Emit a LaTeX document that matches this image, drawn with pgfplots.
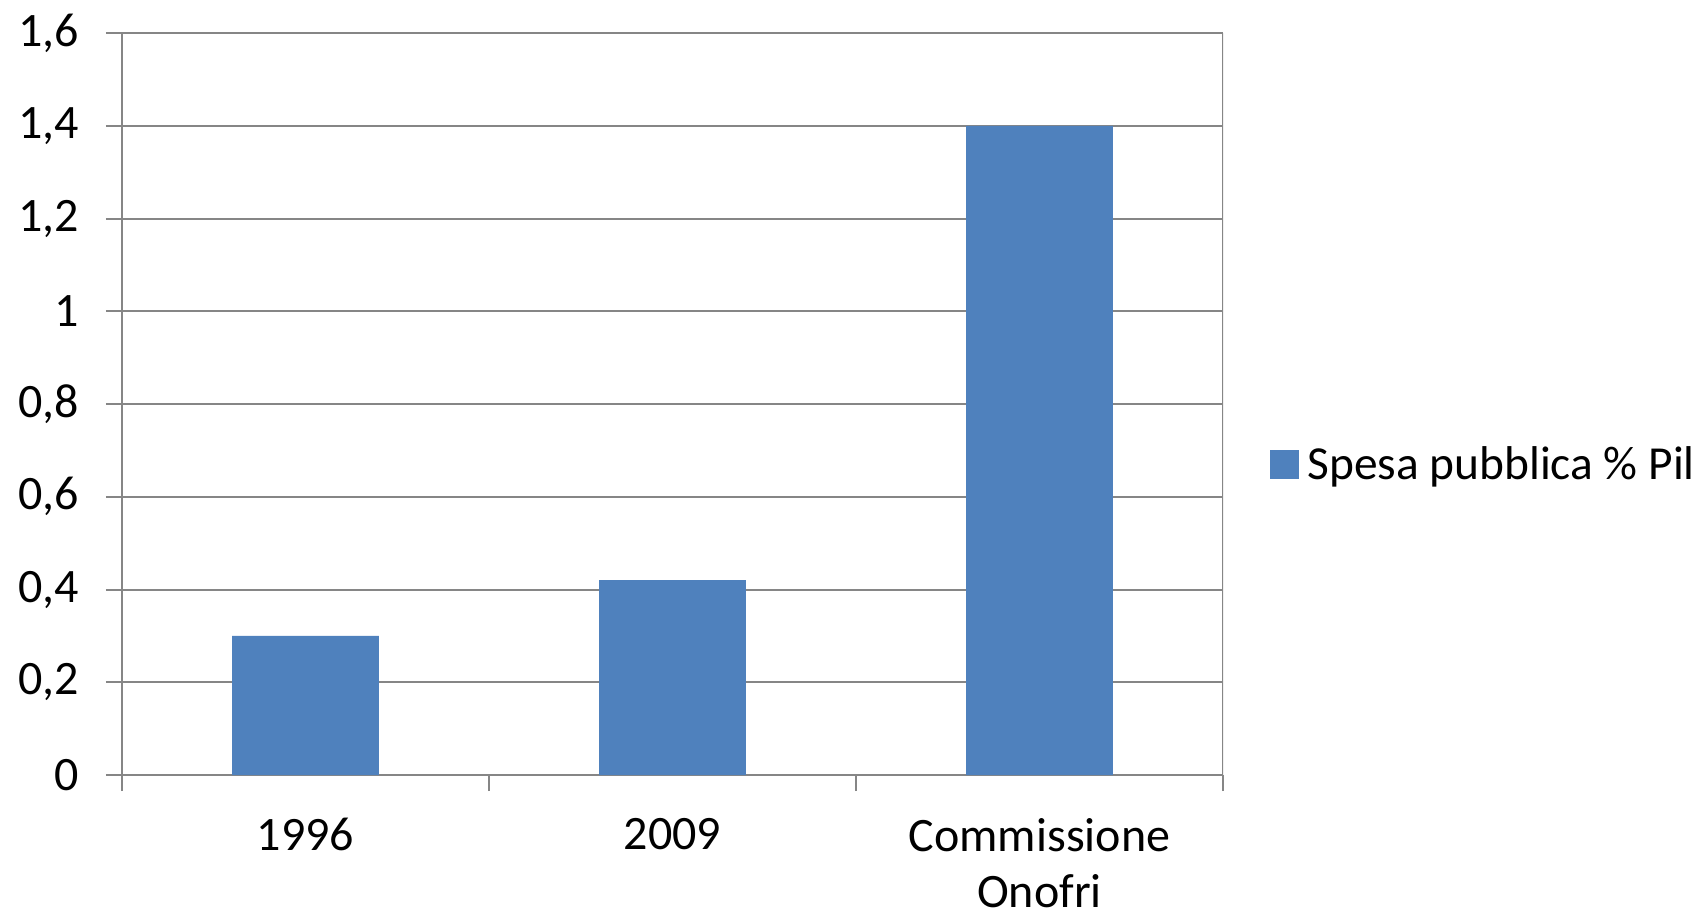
\documentclass[border=0pt]{standalone}
\usepackage{pgfplots}
\pgfplotsset{compat=1.18}
\usepackage{fontspec}
\setmainfont{Carlito}
\definecolor{barblue}{HTML}{4F81BD}
\definecolor{axgray}{HTML}{868686}
\begin{document}
\begin{tikzpicture}
\begin{axis}[
  scale only axis,
  width=550.5pt, height=371pt,
  ymin=0, ymax=1.6,
  ytick={0,0.2,0.4,0.6,0.8,1,1.2,1.4,1.6},
  xmin=-0.5, xmax=2.5,
  xtick={0,1,2},
  xticklabels={1996,2009,{Commissione\\Onofri}},
  minor xtick={-0.5,0.5,1.5,2.5},
  major x tick style={draw=none},
  tick align=outside,
  major tick length=8pt,
  minor tick length=8pt,
  tick style={axgray, line width=1pt},
  ymajorgrids,
  grid style={axgray, line width=1pt},
  axis line style={axgray, line width=1.2pt},
  axis x line*=bottom,
  axis y line*=left,
  y axis line style={axgray},
  /pgf/number format/assume math mode=true,
  /pgf/number format/use comma,
  /pgf/number format/fixed,
  /pgf/number format/precision=1,
  yticklabel style={font=\fontsize{24}{28}\selectfont, xshift=-10pt},
  xticklabel style={font=\fontsize{24}{28.3}\selectfont, align=center, yshift=-10pt},
  legend style={draw=none, at={(1.0427,0.418)}, anchor=west, font=\fontsize{23.7}{28}\selectfont, inner sep=0pt},
  legend image code/.code={\fill[barblue] (0pt,-7.25pt) rectangle (14.5pt,7.25pt);},
  legend cell align=left,
  legend style={nodes={inner xsep=4pt}},
]
\addplot[ybar, bar width=0.4, fill=barblue, draw=none] coordinates {(0,0.3) (1,0.42) (2,1.4)};
\addlegendentry{Spesa pubblica \% Pil}
\draw[axgray, line width=1pt] (axis cs:2.5,0) -- (axis cs:2.5,1.6);
\end{axis}
\pgfresetboundingbox
\useasboundingbox (-61pt,-68.5pt) rectangle (791pt,387.5pt);
\end{tikzpicture}
\end{document}
